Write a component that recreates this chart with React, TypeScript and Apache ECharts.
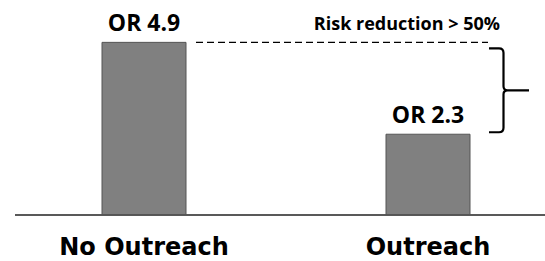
import React, { useEffect, useRef } from "react";
import * as echarts from "echarts";

const categories = ["No Outreach", "Outreach"];
const oddsRatios = [4.9, 2.3];
const annotationText = "Risk reduction > 50%";
const labelPrefix = "OR ";

export default function App() {
  const ref = useRef<HTMLDivElement>(null);
  useEffect(() => {
    if (!ref.current) return;
    const chart = echarts.init(ref.current, null, { renderer: "svg" });
    chart.setOption({
      animation: false,
      grid: {
        left: 2,
        top: 3,
        width: 568,
        bottom: 46,
        containLabel: false,
        outerBoundsMode: "none",
      },
      xAxis: {
        type: "category",
        data: categories,
        axisLine: { show: false },
        axisTick: { show: false },
        axisLabel: {
          color: "#000",
          fontFamily: "DejaVu Sans",
          fontWeight: "bold",
          fontSize: 24,
          margin: 20,
        },
      },
      yAxis: {
        type: "value",
        min: 0,
        max: 6,
        show: false,
        splitLine: { show: false },
      },
      series: [
        {
          type: "bar",
          data: oddsRatios,
          barWidth: 85,
          itemStyle: { color: "#808080", borderColor: "#555555", borderWidth: 1 },
          label: {
            show: true,
            position: "top",
            distance: 8,
            formatter: (p: any) => labelPrefix + p.value,
            color: "#000",
            fontFamily: "Open Sans",
            fontWeight: "bold",
            fontSize: 23,
          },
        },
      ],
    });
    const yTop = chart.convertToPixel({ yAxisIndex: 0 }, oddsRatios[0]) as number;
    const yLow = chart.convertToPixel({ yAxisIndex: 0 }, oddsRatios[1]) as number;
    const y0 = chart.convertToPixel({ yAxisIndex: 0 }, 0) as number;
    const top = yTop + 6.5;
    const bot = yLow - 1.5;
    const mid = (top + bot) / 2;
    const vx = 503.5;
    const d =
      `M489 ${top} L499 ${top} Q${vx} ${top} ${vx} ${top + 4.5} L${vx} ${mid - 4} Q${vx} ${mid} ${vx + 4} ${mid} L529 ${mid} ` +
      `M${vx + 4} ${mid} Q${vx} ${mid} ${vx} ${mid + 4} L${vx} ${bot - 4.5} Q${vx} ${bot} 499 ${bot} L489 ${bot}`;
    echarts.graphic.registerShape("brace", echarts.graphic.extendPath(d, {}));
    chart.setOption({
      graphic: [
        {
          type: "line",
          shape: { x1: 15, y1: y0, x2: 545, y2: y0 },
          style: { stroke: "#222", lineWidth: 1.5 },
        },
        {
          type: "line",
          shape: { x1: 196, y1: yTop + 0.5, x2: 488, y2: yTop + 0.5 },
          style: { stroke: "#000", lineWidth: 1.3, lineDash: [7, 4] },
        },
        {
          type: "brace",
          x: 0,
          y: 0,
          style: { stroke: "#000", lineWidth: 2.2, fill: "none" },
        },
        {
          type: "text",
          x: 500,
          y: 23,
          style: {
            text: annotationText,
            fill: "#000",
            font: "bold 18px 'Open Sans'",
            textAlign: "right",
            textVerticalAlign: "middle",
          },
        },
      ],
    });
    return () => chart.dispose();
  }, []);
  return <div ref={ref} style={{ width: 545, height: 261, position: "absolute", left: 0, top: 0 }} />;
}
